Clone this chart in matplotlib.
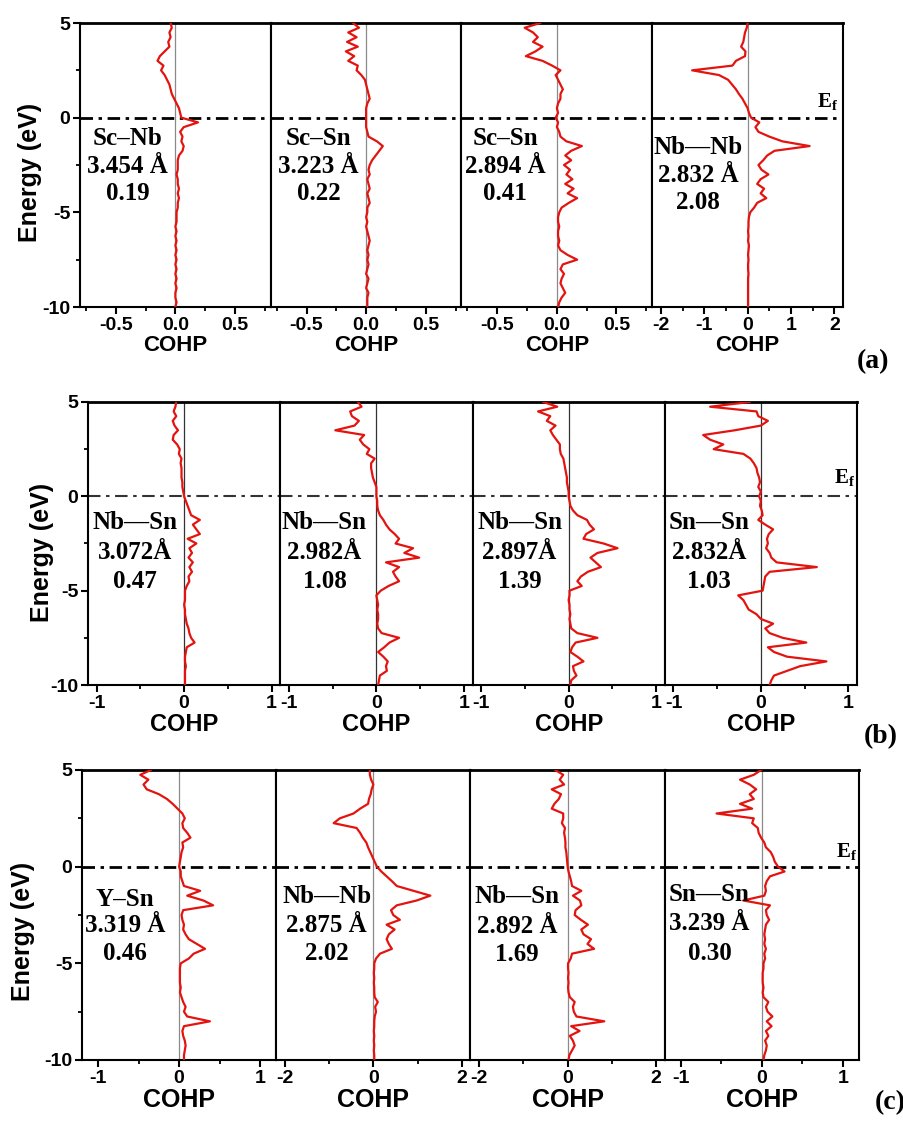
import numpy as np
import matplotlib
matplotlib.use('Agg')
import matplotlib.pyplot as plt
from matplotlib.ticker import MultipleLocator, FormatStrFormatter
from matplotlib.transforms import blended_transform_factory

plt.rcParams['font.family'] = ['Liberation Sans', 'DejaVu Sans']
plt.rcParams['font.weight'] = 'bold'
plt.rcParams['axes.unicode_minus'] = False
plt.rcParams['mathtext.fontset'] = 'custom'
plt.rcParams['mathtext.rm'] = 'Liberation Serif'
plt.rcParams['mathtext.bf'] = 'Liberation Serif:bold'
plt.rcParams['lines.scale_dashes'] = False

# energy sampling grid (eV), top to bottom
ENERGY = np.arange(5.0, -10.01, -0.25)

# ---- row (a) ----
cohp_a1 = [-0.04, -0.03, -0.05, -0.04, -0.06, -0.05, -0.09, -0.13, -0.15, -0.10,
           -0.12, -0.09, -0.07, -0.05, -0.04, -0.03, -0.01, 0.01, 0.03, 0.04,
           0.05, 0.19, 0.07, 0.04, 0.06, 0.05, 0.07, 0.06, 0.03, 0.02,
           0.02, 0.02, 0.01, 0.02, 0.02, 0.03, 0.02, 0.03, 0.02, 0.02,
           0.01, 0.01, 0.01, 0.00, 0.01, 0.00, 0.01, 0.00, 0.01, 0.00,
           0.01, 0.00, 0.01, 0.00, 0.01, 0.00, 0.01, 0.00, 0.00, 0.01,
           0.00]
cohp_a2 = [-0.11, -0.06, -0.15, -0.08, -0.16, -0.07, -0.17, -0.10, -0.15, -0.07,
           -0.08, -0.04, -0.01, 0.00, 0.01, 0.02, 0.03, 0.01, 0.00, 0.00,
           0.00, 0.00, 0.00, 0.01, 0.02, 0.09, 0.14, 0.11, 0.08, 0.05,
           0.03, 0.02, 0.03, 0.01, 0.02, 0.03, 0.01, 0.02, 0.03, 0.01,
           0.01, 0.00, 0.01, 0.00, 0.01, 0.02, 0.03, 0.02, 0.01, 0.02,
           0.01, 0.02, 0.01, 0.00, 0.02, 0.01, 0.00, 0.02, 0.01, 0.01,
           0.01]
cohp_a3 = [-0.14, -0.27, -0.20, -0.16, -0.20, -0.12, -0.18, -0.26, -0.12, -0.04,
           0.03, -0.01, 0.01, 0.03, 0.05, 0.03, 0.03, 0.01, 0.00, 0.01,
           -0.01, 0.01, 0.00, 0.02, 0.03, 0.08, 0.21, 0.12, 0.07, 0.12,
           0.06, 0.11, 0.08, 0.13, 0.07, 0.14, 0.09, 0.17, 0.10, 0.04,
           0.02, 0.01, 0.01, 0.02, 0.01, 0.01, 0.02, 0.01, 0.03, 0.09,
           0.17, 0.05, 0.03, 0.06, 0.04, 0.03, 0.05, 0.07, 0.04, 0.02,
           0.01]
cohp_a4 = [0.00, -0.02, -0.06, -0.08, -0.10, -0.15, -0.05, -0.06, -0.27, -0.35,
           -1.28, -0.66, -0.45, -0.36, -0.27, -0.20, -0.12, -0.06, 0.00, 0.03,
           0.08, 0.27, 0.18, 0.25, 0.50, 0.80, 1.43, 0.62, 0.45, 0.36,
           0.25, 0.32, 0.48, 0.30, 0.22, 0.38, 0.30, 0.43, 0.22, 0.15,
           0.06, 0.03, 0.02, 0.02, 0.01, 0.02, 0.01, 0.03, 0.02, 0.01,
           0.02, 0.01, 0.01, 0.02, 0.01, 0.01, 0.01, 0.01, 0.01, 0.01,
           0.01]

# ---- row (b) ----
cohp_b1 = [-0.09, -0.10, -0.12, -0.09, -0.13, -0.11, -0.07, -0.12, -0.13, -0.08,
           -0.05, -0.06, -0.03, -0.04, -0.03, -0.03, -0.03, -0.02, -0.02, -0.01,
           0.00, 0.02, 0.04, 0.06, 0.08, 0.18, 0.10, 0.14, 0.18, 0.04,
           0.14, 0.06, 0.09, 0.05, 0.10, 0.06, 0.09, 0.05, 0.06, 0.03,
           0.01, 0.01, 0.01, 0.00, 0.01, 0.01, 0.02, 0.03, 0.05, 0.06,
           0.08, 0.12, 0.03, 0.02, 0.01, 0.01, 0.02, 0.01, 0.01, 0.01,
           0.01]
cohp_b2 = [-0.21, -0.17, -0.30, -0.28, -0.20, -0.25, -0.47, -0.14, -0.19, -0.15,
           -0.08, -0.11, -0.02, -0.06, -0.06, -0.05, -0.04, -0.02, 0.00, 0.00,
           0.00, 0.01, 0.01, 0.02, 0.04, 0.08, 0.11, 0.15, 0.21, 0.26,
           0.22, 0.42, 0.32, 0.49, 0.11, 0.26, 0.19, 0.22, 0.26, 0.14,
           0.05, 0.00, 0.01, 0.02, 0.01, 0.02, 0.02, 0.01, 0.02, 0.06,
           0.26, 0.15, 0.09, 0.02, 0.08, 0.13, 0.11, 0.12, 0.04, 0.03,
           0.02]
cohp_b3 = [-0.29, -0.13, -0.35, -0.21, -0.25, -0.15, -0.21, -0.18, -0.14, -0.10,
           -0.10, -0.09, -0.06, -0.05, -0.04, -0.03, -0.02, -0.02, -0.01, 0.00,
           0.00, 0.01, 0.02, 0.05, 0.10, 0.21, 0.24, 0.29, 0.20, 0.17,
           0.40, 0.56, 0.33, 0.25, 0.31, 0.37, 0.22, 0.14, 0.10, 0.15,
           0.01, 0.01, 0.00, 0.01, 0.01, 0.02, 0.01, 0.02, 0.03, 0.10,
           0.33, 0.08, 0.04, 0.02, 0.10, 0.17, 0.05, 0.06, 0.09, 0.03,
           0.02]
cohp_b4 = [-0.13, -0.58, -0.05, -0.03, 0.08, 0.00, -0.30, -0.66, -0.58, -0.43,
           -0.54, -0.20, -0.12, -0.08, -0.05, -0.04, -0.02, -0.01, -0.03, 0.00,
           -0.02, 0.00, -0.01, 0.01, 0.02, -0.03, 0.05, 0.14, 0.09, 0.07,
           0.08, 0.06, 0.10, 0.12, 0.18, 0.64, 0.10, 0.05, 0.04, 0.03,
           0.02, -0.26, -0.20, -0.17, -0.14, -0.05, 0.00, 0.14, 0.05, 0.10,
           0.25, 0.52, 0.08, 0.15, 0.30, 0.75, 0.45, 0.30, 0.15, 0.12,
           0.10]

# ---- row (c) ----
cohp_c1 = [-0.35, -0.48, -0.38, -0.44, -0.40, -0.25, -0.15, -0.08, -0.02, 0.04,
           0.07, 0.04, 0.05, 0.10, 0.14, 0.04, 0.05, 0.03, 0.02, 0.01,
           0.00, 0.02, 0.02, 0.04, 0.06, 0.26, 0.10, 0.30, 0.42, 0.05,
           0.03, 0.04, 0.06, 0.05, 0.08, 0.12, 0.22, 0.32, 0.18, 0.12,
           0.02, 0.01, 0.01, 0.01, 0.01, 0.02, 0.01, 0.03, 0.05, 0.08,
           0.06, 0.10, 0.38, 0.06, 0.04, 0.05, 0.07, 0.08, 0.07, 0.06,
           0.06]
cohp_c2 = [-0.08, -0.08, -0.05, 0.00, -0.04, -0.06, -0.10, -0.12, -0.30, -0.45,
           -0.76, -0.90, -0.38, -0.30, -0.24, -0.16, -0.12, -0.07, -0.02, 0.03,
           0.08, 0.18, 0.30, 0.42, 0.53, 0.91, 1.29, 0.98, 0.53, 0.40,
           0.45, 0.60, 0.30, 0.48, 0.35, 0.30, 0.35, 0.42, 0.15, 0.06,
           0.02, 0.02, 0.01, 0.02, 0.01, 0.02, 0.02, 0.03, 0.10, 0.04,
           0.06, 0.03, 0.02, 0.02, 0.01, 0.02, 0.01, 0.02, 0.01, 0.02,
           0.02]
cohp_c3 = [-0.28, -0.10, -0.18, -0.08, -0.36, -0.15, -0.20, -0.30, -0.36, -0.10,
           -0.10, -0.13, -0.06, -0.08, -0.06, -0.05, -0.05, -0.03, -0.02, -0.01,
           0.00, 0.02, 0.05, 0.08, 0.10, 0.31, 0.12, 0.28, 0.31, 0.18,
           0.16, 0.30, 0.46, 0.31, 0.36, 0.53, 0.45, 0.60, 0.10, 0.07,
           0.01, 0.01, 0.02, 0.01, 0.02, 0.01, 0.02, 0.05, 0.16, 0.12,
           0.14, 0.20, 0.83, 0.08, 0.27, 0.05, 0.12, 0.16, 0.10, 0.04,
           0.02]
cohp_c4 = [-0.01, -0.10, -0.27, -0.15, -0.07, -0.15, -0.10, -0.27, -0.12, -0.56,
           -0.10, -0.12, -0.05, -0.04, -0.01, 0.03, 0.05, 0.11, 0.14, 0.16,
           0.20, 0.28, 0.10, 0.06, 0.04, 0.05, 0.03, -0.23, 0.10, 0.05,
           0.06, 0.09, 0.05, 0.04, 0.03, 0.04, 0.03, 0.05, 0.03, 0.04,
           0.02, 0.02, 0.01, 0.01, 0.01, 0.02, 0.01, 0.02, 0.08, 0.05,
           0.07, 0.13, 0.06, 0.12, 0.05, 0.08, 0.04, 0.06, 0.05, 0.03,
           0.02]

bonds_a = ['Sc\u2013Nb', 'Sc\u2013Sn', 'Sc\u2013Sn', 'Nb\u2014Nb']
lengths_a = ['3.454 \u00c5', '3.223 \u00c5', '2.894 \u00c5', '2.832 \u00c5']
icohp_a = ['0.19', '0.22', '0.41', '2.08']

bonds_b = ['Nb\u2014Sn', 'Nb\u2014Sn', 'Nb\u2014Sn', 'Sn\u2014Sn']
lengths_b = ['3.072\u00c5', '2.982\u00c5', '2.897\u00c5', '2.832\u00c5']
icohp_b = ['0.47', '1.08', '1.39', '1.03']

bonds_c = ['Y\u2013Sn', 'Nb\u2014Nb', 'Nb\u2014Sn', 'Sn\u2014Sn']
lengths_c = ['3.319 \u00c5', '2.875 \u00c5', '2.892 \u00c5', '3.239 \u00c5']
icohp_c = ['0.46', '2.02', '1.69', '0.30']

RED = '#e3140f'
W, H = 904, 1122

rows = [
    dict(curves=[cohp_a1, cohp_a2, cohp_a3, cohp_a4],
         bonds=bonds_a, lengths=lengths_a, icohp=icohp_a, tag='(a)',
         box=(80, 843, 23, 307),
         xlims=[0.8, 0.8, 0.8, 2.2], major=[0.5, 0.5, 0.5, 1], minor=[0.25, 0.25, 0.25, 0.5],
         fmt=['%.1f', '%.1f', '%.1f', '%d'],
         text_x=[0.25, 0.25, 0.23, 0.24],
         text_y=[[-1.1, -2.6, -4.0]] * 3 + [[-1.6, -3.05, -4.5]],
         zero_col='#8a8a8a', ef_lw=2.0, ef_col='black', cohp_fs=16,
         ylab=(30, 172), tag_xy=(873, 362), ef_xy=(838, 112)),
    dict(curves=[cohp_b1, cohp_b2, cohp_b3, cohp_b4],
         bonds=bonds_b, lengths=lengths_b, icohp=icohp_b, tag='(b)',
         box=(88, 857, 402, 685),
         xlims=[1.1] * 4, major=[1] * 4, minor=[0.5] * 4, fmt=['%d'] * 4,
         text_x=[0.245, 0.23, 0.245, 0.23],
         text_y=[[-1.4, -3.0, -4.5]] * 4,
         zero_col='#333333', ef_lw=1.5, ef_col='#333333', cohp_fs=17,
         ylab=(42, 552), tag_xy=(881, 737), ef_xy=(855, 488)),
    dict(curves=[cohp_c1, cohp_c2, cohp_c3, cohp_c4],
         bonds=bonds_c, lengths=lengths_c, icohp=icohp_c, tag='(c)',
         box=(82, 859, 770, 1060),
         xlims=[1.2, 2.2, 2.2, 1.2], major=[1, 2, 2, 1], minor=[0.5, 1, 1, 0.5],
         fmt=['%d'] * 4,
         text_x=[0.22, 0.26, 0.24, 0.23],
         text_y=[[-1.7, -3.05, -4.5], [-1.55, -3.05, -4.5], [-1.55, -3.1, -4.55], [-1.45, -2.95, -4.5]],
         zero_col='#8a8a8a', ef_lw=2.0, ef_col='black', cohp_fs=18,
         ylab=(23, 931), tag_xy=(890, 1103), ef_xy=(857, 862)),
]

fig = plt.figure(figsize=(W / 100, H / 100), dpi=100)
fig.patch.set_facecolor('white')

serif = dict(family='Liberation Serif', fontweight='bold')

for row in rows:
    left, right, top, bottom = row['box']
    pw = (right - left) / 4
    for i in range(4):
        ax = fig.add_axes([(left + i * pw) / W, 1 - bottom / H, pw / W, (bottom - top) / H])
        ax.plot(row['curves'][i], ENERGY, color=RED, lw=1.6, zorder=3)
        ax.axvline(0, color=row['zero_col'], lw=0.9, zorder=2)
        ax.axhline(0, color=row['ef_col'], lw=row['ef_lw'], dashes=(9, 4, 2.5, 4), zorder=2)
        lim = row['xlims'][i]
        ax.set_xlim(-lim, lim)
        ax.set_ylim(-10, 5)
        ax.xaxis.set_major_locator(MultipleLocator(row['major'][i]))
        ax.xaxis.set_minor_locator(MultipleLocator(row['minor'][i]))
        ax.xaxis.set_major_formatter(FormatStrFormatter(row['fmt'][i]))
        ax.yaxis.set_major_locator(MultipleLocator(5))
        ax.yaxis.set_minor_locator(MultipleLocator(2.5))
        ax.tick_params(which='major', direction='out', length=5, width=1.5, labelsize=14, pad=2)
        ax.tick_params(which='minor', direction='out', length=3, width=1.3)
        ax.tick_params(top=False, right=False, which='both')
        if i > 0:
            ax.tick_params(axis='y', which='both', left=False, labelleft=False)
        for s in ax.spines.values():
            s.set_linewidth(1.5)
        ax.spines['top'].set_linewidth(2.0)
        ax.set_xlabel('COHP', fontsize=row['cohp_fs'], fontweight='bold', labelpad=1)

        tr = blended_transform_factory(ax.transAxes, ax.transData)
        for txt, yy in zip([row['bonds'][i], row['lengths'][i], row['icohp'][i]], row['text_y'][i]):
            ax.text(row['text_x'][i], yy, txt, transform=tr, ha='center', va='center',
                    fontsize=18, zorder=4, **serif)

    ex, ey = row['ef_xy']
    fig.text(ex / W, 1 - ey / H, r'$\mathbf{E_f}$', ha='right', va='bottom', fontsize=15)
    tx, ty = row['tag_xy']
    fig.text(tx / W, 1 - ty / H, row['tag'], ha='center', va='center', fontsize=20, **serif)
    lx, ly = row['ylab']
    fig.text(lx / W, 1 - ly / H, 'Energy (eV)', rotation=90, ha='center', va='center',
             fontsize=18, fontweight='bold')

fig.savefig('out.png', dpi=100, facecolor='white')
